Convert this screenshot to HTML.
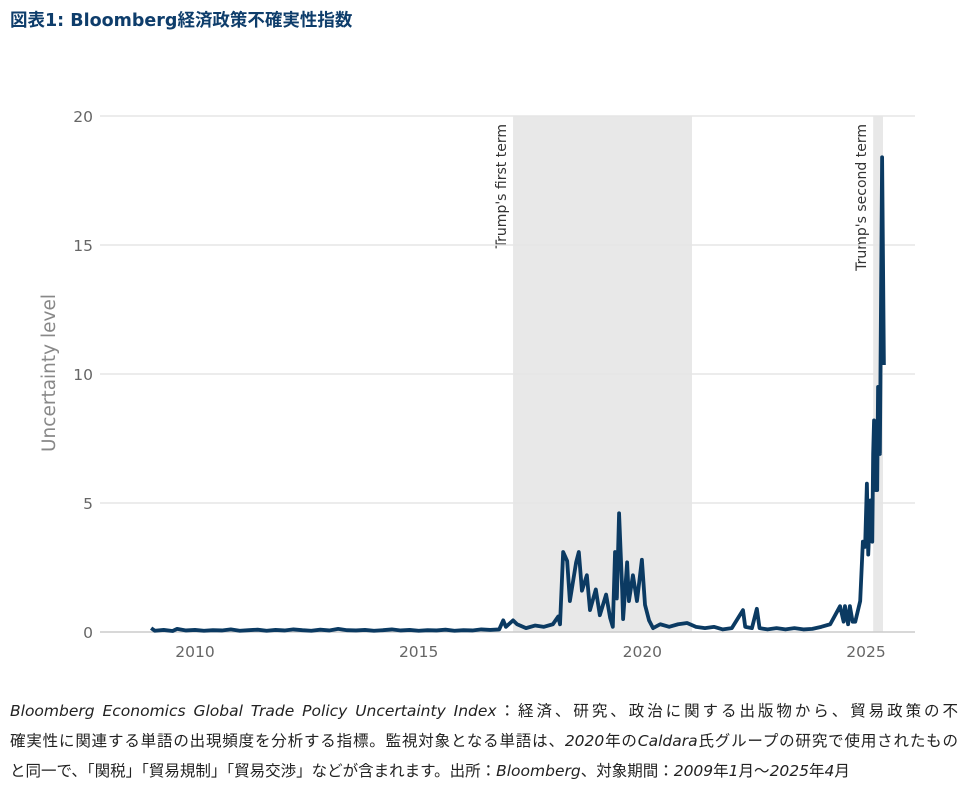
<!DOCTYPE html>
<html><head><meta charset="utf-8">
<style>
body{margin:0;width:967px;height:786px;background:#fff;overflow:hidden;font-family:"DejaVu Sans","Noto Sans CJK JP",sans-serif;}
#title{position:absolute;left:10px;top:7px;font-size:17.5px;font-weight:bold;color:#0e3d6b;}
#cap{position:absolute;left:10px;top:696px;width:948px;font-size:15.5px;line-height:30px;color:#222;}
#cap div{white-space:nowrap;overflow:visible}
#cap .j{text-align:justify;text-align-last:justify;white-space:normal}
#cap i{font-style:italic}
svg{position:absolute;left:0;top:0}
</style></head><body>
<div id="title">図表1: Bloomberg経済政策不確実性指数</div>
<svg id="chart" width="967" height="690"></svg>
<div id="cap">
<div class="j"><i>Bloomberg Economics Global Trade Policy Uncertainty Index</i>：経済、研究、政治に関する出版物から、貿易政策の不</div>
<div class="j">確実性に関連する単語の出現頻度を分析する指標。監視対象となる単語は、<i>2020</i>年の<i>Caldara</i>氏グループの研究で使用されたもの</div>
<div>と同一で、「関税」「貿易規制」「貿易交渉」などが含まれます。出所：<i>Bloomberg</i>、対象期間：<i>2009</i>年<i>1</i>月～<i>2025</i>年<i>4</i>月</div>
</div>
<script>
const yTicks=[0,5,10,15,20];
const xTicks=[2010,2015,2020,2025];
const terms=[["Trump's first term",2017.11,2021.11],["Trump's second term",2025.16,2025.38]];
const dates=[2009.02,2009.1,2009.3,2009.5,2009.6,2009.8,2010.0,2010.2,2010.4,2010.6,2010.8,2011.0,2011.2,2011.4,2011.6,2011.8,2012.0,2012.2,2012.4,2012.6,2012.8,2013.0,2013.2,2013.4,2013.6,2013.8,2014.0,2014.2,2014.4,2014.6,2014.8,2015.0,2015.2,2015.4,2015.6,2015.8,2016.0,2016.2,2016.4,2016.6,2016.8,2016.89,2016.95,2017.11,2017.2,2017.4,2017.6,2017.8,2018.0,2018.12,2018.16,2018.23,2018.32,2018.38,2018.52,2018.58,2018.65,2018.76,2018.83,2018.96,2019.05,2019.19,2019.28,2019.34,2019.39,2019.43,2019.48,2019.55,2019.57,2019.66,2019.70,2019.79,2019.88,2019.99,2020.06,2020.15,2020.24,2020.4,2020.6,2020.8,2021.0,2021.2,2021.4,2021.6,2021.8,2022.0,2022.25,2022.3,2022.45,2022.56,2022.62,2022.8,2023.0,2023.2,2023.4,2023.6,2023.8,2024.0,2024.2,2024.42,2024.5,2024.53,2024.6,2024.64,2024.7,2024.76,2024.87,2024.93,2024.98,2025.02,2025.05,2025.1,2025.14,2025.16,2025.18,2025.22,2025.25,2025.27,2025.31,2025.36,2025.40];
const values=[0.15,0.05,0.08,0.04,0.12,0.06,0.08,0.05,0.07,0.06,0.1,0.05,0.07,0.09,0.05,0.08,0.06,0.1,0.07,0.05,0.09,0.06,0.12,0.07,0.06,0.08,0.05,0.07,0.1,0.06,0.08,0.05,0.07,0.06,0.09,0.05,0.07,0.06,0.1,0.08,0.1,0.45,0.2,0.45,0.3,0.15,0.25,0.2,0.3,0.6,0.3,3.1,2.75,1.2,2.7,3.1,1.6,2.2,0.85,1.65,0.65,1.45,0.55,0.2,3.1,1.3,4.6,1.6,0.5,2.7,1.2,2.2,1.2,2.8,1.05,0.45,0.15,0.3,0.2,0.3,0.35,0.2,0.15,0.2,0.1,0.15,0.85,0.2,0.15,0.9,0.15,0.1,0.15,0.1,0.15,0.1,0.12,0.2,0.3,1.0,0.4,1.0,0.3,1.0,0.4,0.4,1.2,3.5,3.3,5.75,3.0,5.1,3.5,6.9,8.2,5.5,5.5,9.5,6.9,18.4,10.35];
const svg=document.getElementById('chart');
const NS='http://www.w3.org/2000/svg';
const x=v=>195+(v-2010)*(866-195)/15;
const y=v=>632-v*25.8;
function mk(t,a,p){const e=document.createElementNS(NS,t);for(const k in a)e.setAttribute(k,a[k]);(p||svg).appendChild(e);return e;}
terms.forEach(t=>{
  const r=mk('rect',{x:x(t[1]),y:y(20),width:x(t[2])-x(t[1]),height:y(0)-y(20),fill:'#e8e8e8'});
  
  
  const tx=mk('text',{transform:`translate(${x(t[1])-7},${y(20)+8}) rotate(-90)`,'text-anchor':'end','font-size':'14','font-family':'DejaVu Sans, sans-serif',fill:'#333'});
  tx.textContent=t[0];
  
  
});
yTicks.forEach(v=>{
  const l=mk('line',{x1:100,x2:915,y1:y(v),y2:y(v),stroke:v===0?'#ccc':'#e6e6e6','stroke-width':1.5});
  
  
  const t=mk('text',{x:93,y:y(v)+6,'text-anchor':'end','font-size':'15.5','font-family':'DejaVu Sans, sans-serif',fill:'#666'});
  t.textContent=v;
  
  
});
xTicks.forEach(v=>{
  const t=mk('text',{x:x(v),y:657,'text-anchor':'middle','font-size':'15.5','font-family':'DejaVu Sans, sans-serif',fill:'#666'});
  t.textContent=v;
  
  
});
const yl=mk('text',{transform:'translate(55,373) rotate(-90)','text-anchor':'middle','font-size':'18.5','font-family':'DejaVu Sans, sans-serif',fill:'#888'});
yl.textContent='Uncertainty level';


const pl=mk('polyline',{points:dates.map((d,i)=>x(d)+','+y(values[i])).join(' '),fill:'none',stroke:'#0b3a62','stroke-width':3.8,'stroke-linejoin':'round'});


</script>
</body></html>
